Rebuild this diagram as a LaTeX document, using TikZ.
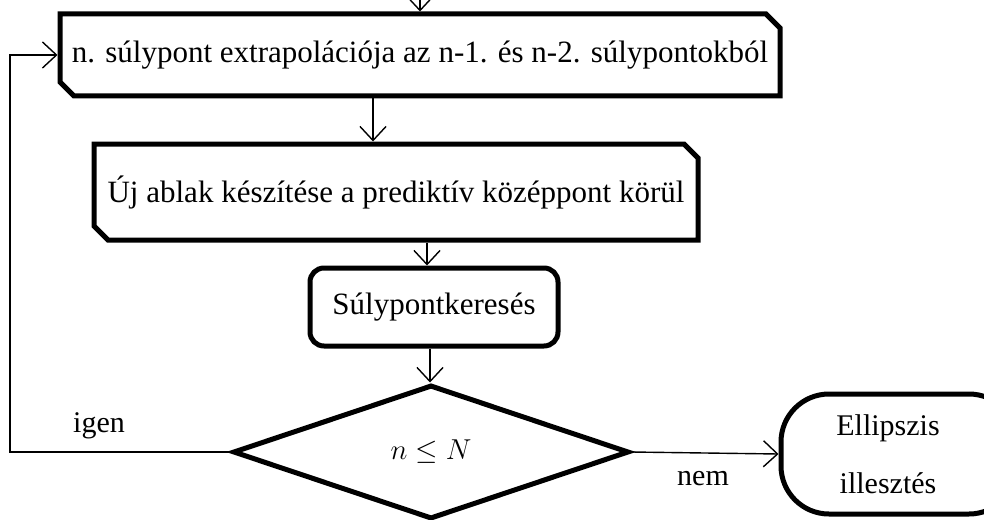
\documentclass[tikz,border=0pt]{standalone}
\usepackage{fontspec}
\setmainfont{Liberation Serif}
\usetikzlibrary{shapes.geometric,shapes.misc,arrows.meta}

\begin{document}
\begin{tikzpicture}[x=0.5pt,y=-0.5pt,
    arr/.style={-{Straight Barb[length=7pt,width=13pt]}, line width=0.7pt},
    stepbox/.style={chamfered rectangle, chamfered rectangle corners={north east,south west},
      chamfered rectangle sep=3.5pt, draw, line width=2.5pt, inner sep=0pt, font=\fontsize{15.5}{18}\selectfont},
    searchbox/.style={rectangle, rounded corners=7pt, draw, line width=2.5pt, font=\fontsize{15.5}{18}\selectfont},
    test/.style={diamond, draw, line width=2.5pt, inner sep=0pt, aspect=2.9},
    stopbox/.style={rectangle, rounded corners=24pt, draw, line width=2.5pt, align=center, font=\fontsize{15}{29}\selectfont},
    lbl/.style={font=\fontsize{15}{18}\selectfont}]
  \useasboundingbox (0,0) rectangle (984,519);
  % boxes
  \node[stepbox, minimum width=360pt, minimum height=41pt] (extra) at (420,55) {n. súlypont extrapolációja az n-1. és n-2. súlypontokból};
  \node[stepbox, minimum width=302pt, minimum height=48pt] (window) at (396,192) {Új ablak készítése a prediktív középpont körül};
  \node[searchbox, minimum width=124pt, minimum height=39pt] (search) at (434,307) {Súlypontkeresés};
  \node[test, minimum width=198pt, minimum height=67pt] (cond) at (431,452) {\fontsize{13.5}{16}\selectfont$n \le N$};
  \node[stopbox, minimum width=118pt, minimum height=60pt] (stop) at (899,454) {Ellipszis\hspace*{11pt}\\illesztés\hspace*{11pt}};
  \node[lbl] (yes) at (99,426) {igen};
  \node[lbl] (no) at (703,479) {nem};
  % connectors
  \coordinate (start) at (420,-10);
  \coordinate (back) at (10,452);
  \draw[arr] (start) -- (extra.north);
  \draw[arr] ([xshift=-23.5pt]extra.south) -- ([xshift=-23.5pt]extra.south |- window.north);
  \draw[arr] ([xshift=15.5pt]window.south) -- ([xshift=15.5pt]window.south |- search.north);
  \draw[arr] ([xshift=-2pt]search.south) -- ([xshift=-2pt]search.south |- cond.north);
  \draw[arr] (cond.west) -- (back) |- (extra.west);
  \draw[arr] (cond.east) -- (stop.west);
\end{tikzpicture}
\end{document}
